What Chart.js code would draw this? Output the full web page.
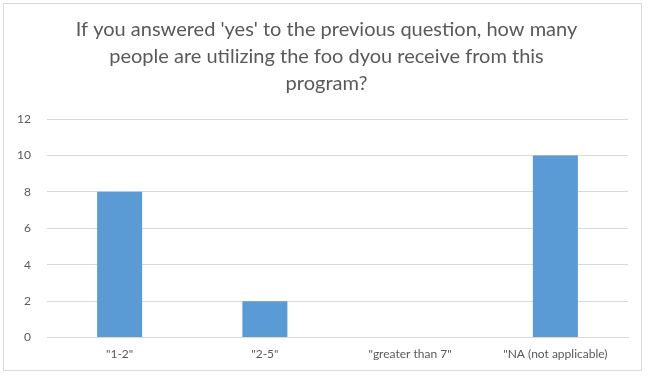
<!DOCTYPE html>
<html>
<head>
<meta charset="utf-8">
<script src="https://cdn.jsdelivr.net/npm/chart.js@4/dist/chart.umd.min.js"></script>
<style>
  html, body { margin: 0; padding: 0; background: #fff; }
  #wrap {
    position: absolute; left: 3px; top: 3px;
    width: 637px; height: 366px;
    border: 1px solid #d9d9d9;
  }
</style>
</head>
<body>
<div id="wrap"><canvas id="c"></canvas></div>
<script>
// survey answers and counts
const categories = ['"1-2"', '"2-5"', '"greater than 7"', '"NA (not applicable)'];
const counts = [8, 2, 0, 10];
const titleLines = [
  "If you answered 'yes' to the previous question, how many",
  'people are utilizing the foo dyou receive from this',
  'program?'
];

const textColor = '#595959';
const fontFamily = 'Lato, "Open Sans", sans-serif';

new Chart(document.getElementById('c'), {
  type: 'bar',
  data: {
    labels: categories,
    datasets: [{
      data: counts,
      backgroundColor: '#5b9bd5',
      categoryPercentage: 0.31,
      barPercentage: 1.0
    }]
  },
  options: {
    responsive: true,
    maintainAspectRatio: false,
    animation: false,
    layout: { padding: { left: 11, right: 3, top: 6, bottom: 0 } },
    plugins: {
      legend: { display: false },
      tooltip: { enabled: false },
      title: {
        display: true,
        text: titleLines,
        color: textColor,
        font: { family: fontFamily, size: 20, weight: 'normal', lineHeight: 1.35 },
        padding: { top: 6, bottom: 22 }
      }
    },
    scales: {
      x: {
        grid: { display: false, drawTicks: false },
        border: { color: '#d9d9d9' },
        ticks: { color: textColor, font: { family: fontFamily, size: 12 }, padding: 9 }
      },
      y: {
        min: 0, max: 12,
        ticks: { stepSize: 2, color: textColor, font: { family: fontFamily, size: 12 }, padding: 16 },
        grid: { color: '#d9d9d9', drawTicks: false },
        border: { display: false },
        afterFit: axis => { axis.width = 32; }
      },
      // empty spacer on the right so the title sits a little right of the plot centre
      spacer: {
        position: 'right',
        ticks: { display: false },
        grid: { display: false, drawTicks: false },
        border: { display: false },
        afterFit: axis => { axis.width = 10; }
      }
    }
  }
});
</script>
</body>
</html>
